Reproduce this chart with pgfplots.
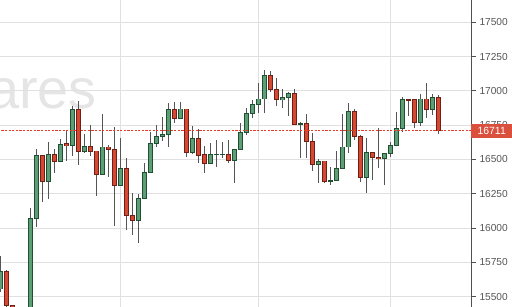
\documentclass[border=0pt]{standalone}
\usepackage{fontspec}
\setmainfont{Liberation Sans}
\usepackage{pgfplots}
\usepackage{pgfplotstable}
\pgfplotsset{compat=1.18}
\definecolor{gfill}{RGB}{94,158,118}
\definecolor{gedge}{RGB}{32,80,50}
\definecolor{rfill}{RGB}{214,72,50}
\definecolor{redge}{RGB}{110,32,22}
\definecolor{wick}{RGB}{85,85,85}
\definecolor{gridgray}{RGB}{224,224,224}
\definecolor{axisgray}{RGB}{80,80,80}
\definecolor{labelgray}{RGB}{85,85,85}
\definecolor{dashred}{RGB}{232,60,40}
\definecolor{lblred}{RGB}{218,80,60}
\definecolor{wm}{RGB}{229,229,229}

% x = candle index, o = open, h = high, l = low, c = close
\pgfplotstableread{
x o h l c
0 15556 15796 15534 15682
3 15320 15410 15230 15380
4 15370 15420 15300 15410
5 15390 16144 15360 16071
6 16071 16574 16010 16530
8 16338 16630 16210 16538
10 16487 16649 16480 16611
12 16600 16890 16528 16861
14 16557 16686 16547 16598
17 16392 16832 16390 16591
20 16309 16654 16305 16436
23 16057 16248 15889 16217
24 16217 16477 16210 16407
25 16407 16700 16400 16618
26 16618 16751 16593 16671
27 16669 16812 16635 16684
28 16684 16914 16593 16861
30 16800 16921 16795 16868
32 16549 16744 16540 16654
35 16472 16622 16470 16538
36 16537 16642 16443 16539
37 16538 16630 16509 16540
39 16496 16578 16331 16574
40 16574 16768 16570 16698
41 16698 16873 16678 16837
42 16837 16934 16800 16902
43 16902 17055 16837 16941
44 16941 17152 16841 17111
47 16934 17012 16877 16953
48 16953 16990 16817 16982
50 16755 16775 16509 16760
53 16465 16501 16331 16484
55 16340 16447 16314 16345
56 16348 16562 16345 16436
57 16436 16832 16430 16591
58 16591 16914 16545 16853
61 16370 16659 16253 16552
64 16506 16548 16314 16545
65 16545 16630 16516 16603
66 16603 16844 16600 16727
67 16727 16958 16698 16934
70 16768 16975 16744 16941
72 16866 16975 16824 16953
}\upcandles

\pgfplotstableread{
x o h l c
1 15682 15694 15400 15439
2 15434 15440 15280 15330
7 16530 16535 16192 16338
9 16538 16574 16399 16487
11 16615 16715 16491 16600
13 16861 16928 16460 16557
15 16598 16751 16525 16557
16 16562 16565 16236 16392
18 16591 16606 16375 16574
19 16574 16739 16017 16309
21 16436 16509 15986 16090
22 16090 16253 15950 16057
29 16861 16921 16768 16800
31 16868 16870 16516 16549
33 16654 16720 16472 16528
34 16533 16598 16404 16472
38 16538 16642 16472 16496
45 17111 17145 16994 17012
46 17012 17092 16890 16934
49 16982 17012 16750 16756
51 16762 16832 16509 16633
52 16633 16691 16418 16465
54 16489 16492 16326 16338
59 16853 16866 16642 16671
60 16671 16675 16338 16370
62 16552 16555 16350 16516
63 16516 16727 16436 16506
68 16934 16936 16819 16930
69 16934 16936 16727 16768
71 16941 17060 16805 16866
73 16953 16970 16684 16711
}\downcandles

\pgfplotsset{
  wickstyle/.style={draw=none, no markers, forget plot,
    error bars/.cd, y dir=both, y explicit, error mark=none,
    error bar style={draw=wick, line width=0.8bp}},
  bodyout/.style={draw=none, no markers, forget plot,
    error bars/.cd, y dir=both, y explicit, error mark=none,
    error bar style={draw=#1, line width=4.6bp}},
  bodyin/.style={draw=none, no markers, forget plot,
    error bars/.cd, y dir=both, y explicit, error mark=none,
    error bar style={draw=#1, line width=2.7bp}},
}

\begin{document}
\begin{tikzpicture}
\begin{scope}
\clip (0,0) rectangle (471bp,307bp);
\node[anchor=base east, inner sep=0pt, text=wm, font=\fontsize{56}{60}\selectfont] at (97bp,198bp) {ares};
\end{scope}
\begin{axis}[
  at={(0,0)}, anchor=south west,
  scale only axis, width=471bp, height=307bp,
  xmin=-0.05, xmax=78.41, ymin=15424.8, ymax=17662.5,
  axis y line*=right, axis x line*=bottom,
  x axis line style={draw=none},
  y axis line style={draw=axisgray, line width=0.9bp},
  xtick={20,43,65}, xticklabels={},
  x tick style={draw=none},
  ytick={15500,15750,16000,16250,16500,16750,17000,17250,17500},
  scaled y ticks=false,
  y tick style={draw=axisgray, line width=0.8bp},
  tick align=outside, major tick length=5bp,
  grid=major, major grid style={draw=gridgray, line width=0.9bp},
  yticklabel style={font=\fontsize{10.2}{12}\selectfont, text=labelgray},
  /pgf/number format/1000 sep={},
  /pgf/number format/assume math mode=true,
  clip bounding box=upper bound,
]
% wicks
\addplot[wickstyle] table[x=x, y expr={(\thisrow{h}+\thisrow{l})/2}, y error expr={(\thisrow{h}-\thisrow{l})/2}] {\upcandles};
\addplot[wickstyle] table[x=x, y expr={(\thisrow{h}+\thisrow{l})/2}, y error expr={(\thisrow{h}-\thisrow{l})/2}] {\downcandles};
% bodies: outline then fill
\addplot[bodyout=gedge] table[x=x, y expr={(\thisrow{o}+\thisrow{c})/2}, y error expr={abs(\thisrow{c}-\thisrow{o})/2+3.5}] {\upcandles};
\addplot[bodyin=gfill] table[x=x, y expr={(\thisrow{o}+\thisrow{c})/2}, y error expr={max(abs(\thisrow{c}-\thisrow{o})/2-3.5,0)}] {\upcandles};
\addplot[bodyout=redge] table[x=x, y expr={(\thisrow{o}+\thisrow{c})/2}, y error expr={abs(\thisrow{c}-\thisrow{o})/2+3.5}] {\downcandles};
\addplot[bodyin=rfill] table[x=x, y expr={(\thisrow{o}+\thisrow{c})/2}, y error expr={max(abs(\thisrow{c}-\thisrow{o})/2-3.5,0)}] {\downcandles};
% current price line
\addplot[draw=dashred, line width=0.9bp, dash pattern=on 2.2bp off 1.4bp, forget plot] coordinates {(-1,16711) (80,16711)};
\coordinate (lbl) at (axis cs:78.41,16711);
\end{axis}
\node[fill=lblred, text=white, anchor=west, minimum width=41bp, minimum height=14bp, inner sep=0pt, font=\fontsize{10.5}{12}\selectfont] at (lbl) {16711};
\pgfresetboundingbox
\path[use as bounding box] (0,0) rectangle (512bp,307bp);
\end{tikzpicture}
\end{document}
